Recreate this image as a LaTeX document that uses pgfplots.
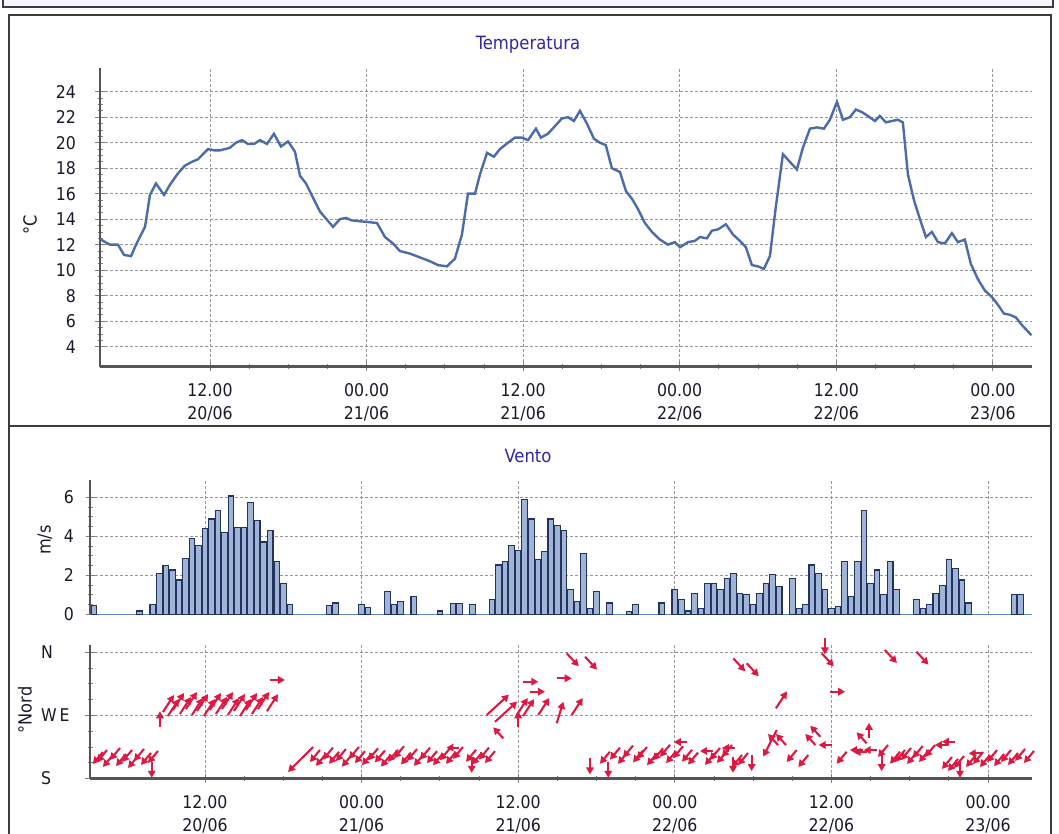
\documentclass[border=0pt]{standalone}
\usepackage{fontspec}
\setmainfont{DejaVu Sans Condensed}
\usepackage{pgfplots}
\usepackage{pgfplotstable}
\pgfplotsset{compat=1.18}
\usetikzlibrary{arrows.meta}
\definecolor{tline}{RGB}{74,108,168}
\definecolor{titlec}{RGB}{48,40,160}
\definecolor{barfill}{RGB}{160,180,215}
\definecolor{bardraw}{RGB}{34,52,94}
\definecolor{zeroline}{RGB}{100,135,200}
\definecolor{arrowc}{RGB}{222,24,64}
\definecolor{gridc}{RGB}{150,150,150}
\definecolor{axisc}{RGB}{85,85,85}
\definecolor{framec}{RGB}{60,60,60}
\definecolor{labelc}{RGB}{25,25,40}
\definecolor{stripc}{RGB}{244,246,252}

\pgfplotsset{
  base/.style={
    scale only axis,
    /pgf/number format/assume math mode=true,
    tick label style={font=\fontsize{17.5}{23}\selectfont, text=labelc},
    tick style={line width=0.8pt, gray},
    major tick length=9pt, minor tick length=5pt,
    tick align=outside,
    major grid style={dash pattern=on 3pt off 2pt, gridc, line width=0.8pt},
    xmajorgrids, ymajorgrids,
    xtick={12,24,36,48,60,72},
    minor x tick num=3,
  },
  lines/.style={
    axis x line=bottom, axis y line=left,
    axis line style={-, line width=2.6pt, axisc},
  },
  datelabels/.style={
    xticklabels={{12.00\\20/06},{00.00\\21/06},{12.00\\21/06},{00.00\\22/06},{12.00\\22/06},{00.00\\23/06}},
    x tick label style={align=center, yshift=-8.5pt},
  },
  arr/.style={arrowc, line width=2.1pt, -{Triangle[length=7pt,width=7.5pt]}},
}

\pgfplotstableread{
x y
3.57 12.5
3.80 12.3
4.34 12.0
4.95 12.0
5.41 11.2
5.95 11.1
6.33 12.0
7.02 13.4
7.40 15.9
7.86 16.8
8.48 15.9
8.93 16.7
9.55 17.6
10.08 18.2
10.62 18.5
11.08 18.7
11.85 19.5
12.31 19.4
12.77 19.4
13.53 19.6
13.99 20.0
14.45 20.2
14.91 19.9
15.37 19.9
15.83 20.2
16.37 19.9
16.90 20.7
17.44 19.7
17.98 20.1
18.51 19.3
18.90 17.4
19.36 16.8
19.89 15.7
20.43 14.6
21.43 13.4
21.96 14.0
22.42 14.1
22.88 13.9
23.88 13.8
24.80 13.7
25.41 12.6
26.02 12.1
26.56 11.5
27.33 11.3
28.09 11.0
28.86 10.7
29.47 10.4
30.16 10.3
30.77 10.9
31.31 12.8
31.77 16.0
32.31 16.0
32.69 17.5
33.23 19.2
33.76 18.9
34.22 19.5
34.84 20.0
35.37 20.4
35.91 20.4
36.37 20.2
36.98 21.1
37.36 20.4
37.90 20.7
38.44 21.3
38.97 21.9
39.43 22.0
39.89 21.7
40.35 22.5
40.89 21.5
41.43 20.3
41.89 20.0
42.34 19.8
42.80 18.0
43.42 17.7
43.88 16.2
44.34 15.6
44.80 14.8
45.33 13.7
45.87 13.0
46.48 12.4
47.10 12.0
47.63 12.2
48.02 11.8
48.64 12.2
49.16 12.3
49.55 12.6
50.08 12.5
50.47 13.1
50.93 13.2
51.54 13.6
52.08 12.8
52.61 12.3
53.07 11.8
53.53 10.4
53.99 10.3
54.45 10.1
54.91 11.1
55.37 15.0
55.91 19.1
56.44 18.5
56.98 17.9
57.44 19.6
57.98 21.1
58.51 21.2
59.05 21.1
59.51 21.8
60.05 23.2
60.51 21.8
61.04 22.0
61.50 22.6
61.96 22.4
62.42 22.1
62.96 21.7
63.34 22.1
63.80 21.6
64.26 21.7
64.72 21.8
65.10 21.6
65.49 17.5
65.95 15.5
66.41 14.0
66.87 12.6
67.33 13.0
67.79 12.2
68.32 12.1
68.86 12.9
69.32 12.2
69.85 12.4
70.31 10.5
70.85 9.3
71.39 8.4
71.92 7.9
72.38 7.3
72.84 6.6
73.30 6.5
73.76 6.3
74.22 5.7
74.68 5.2
74.95 4.9
}\temp

\pgfplotstableread{
x y
3.5 0.43
7.0 0.17
8.0 0.51
8.5 2.10
9.0 2.51
9.5 2.27
10.0 1.76
10.5 2.87
11.0 3.88
11.5 3.52
12.0 4.38
12.5 4.89
13.0 5.32
13.5 4.21
14.0 6.07
14.5 4.44
15.0 4.44
15.5 5.74
16.0 4.80
16.5 3.71
17.0 4.31
17.5 2.70
18.0 1.59
18.5 0.50
21.5 0.43
22.0 0.58
24.0 0.50
24.5 0.34
26.0 1.18
26.5 0.51
27.0 0.67
28.0 0.92
30.0 0.17
31.0 0.56
31.5 0.56
32.5 0.50
34.0 0.75
34.5 2.53
35.0 2.70
35.5 3.54
36.0 3.28
36.5 5.91
37.0 4.89
37.5 2.79
38.0 3.21
38.5 4.89
39.0 4.55
39.5 4.31
40.0 1.25
40.5 0.67
41.0 3.13
41.5 0.32
42.0 1.18
43.0 0.58
44.5 0.15
45.0 0.50
47.0 0.58
48.0 1.25
48.5 0.75
49.0 0.17
49.5 1.08
50.0 0.32
50.5 1.59
51.0 1.59
51.5 1.25
52.0 1.85
52.5 2.10
53.0 1.08
53.5 1.01
54.0 0.50
54.5 1.08
55.0 1.59
55.5 2.02
56.0 1.42
57.0 1.85
57.5 0.32
58.0 0.50
58.5 2.53
59.0 2.10
59.5 1.25
60.0 0.32
60.5 0.41
61.0 2.70
61.5 0.92
62.0 2.70
62.5 5.32
63.0 1.59
63.5 2.27
64.0 1.01
64.5 2.70
65.0 1.25
66.5 0.75
67.0 0.32
67.5 0.50
68.0 1.08
68.5 1.50
69.0 2.79
69.5 2.36
70.0 1.76
70.5 0.58
74.0 1.01
74.5 1.01
}\wind

% wind-direction arrows: tail positions, grouped by arrow direction
\pgfplotstableread{
x y
4.18 37.8
4.49 40.6
4.95 33.5
5.49 43.5
5.95 34.9
6.41 40.6
6.87 32.1
7.33 42.1
7.86 36.4
8.40 39.2
20.81 40.6
21.27 35.0
21.81 44.0
22.27 38.0
22.80 42.0
23.26 34.0
23.80 45.0
24.26 39.0
24.80 36.0
25.26 43.0
25.79 40.0
26.25 34.0
26.79 41.0
27.25 46.0
27.79 37.0
28.25 42.0
28.78 35.0
29.24 44.0
29.78 39.0
30.24 36.0
30.77 43.0
31.23 38.0
31.77 45.0
32.77 41.0
33.23 37.0
33.76 44.0
34.22 39.0
43.03 38.2
43.80 44.0
44.41 38.0
44.80 47.0
45.56 40.0
45.87 45.0
46.64 36.0
47.10 43.0
47.63 48.0
48.10 39.0
48.63 46.0
49.32 41.0
49.78 37.0
51.08 36.4
51.46 43.5
52.00 39.2
52.38 47.8
53.15 33.5
53.61 36.4
57.34 40.6
58.23 33.5
61.17 38.2
64.34 47.8
65.26 38.2
65.64 40.6
66.10 43.5
66.56 37.8
67.00 46.4
67.48 40.6
67.94 47.8
69.24 30.7
69.70 27.8
70.16 32.1
71.08 33.5
71.62 37.8
72.15 33.5
72.69 40.6
73.23 34.9
73.76 40.6
74.30 36.4
74.84 42.1
75.52 39.2
}\dirSW
\pgfplotstableread{
x y
7.92 24.0
32.44 31.1
41.50 28.8
42.90 24.0
52.46 31.1
53.89 33.5
59.50 199.9
63.85 33.5
69.85 24.0
}\dirS
\pgfplotstableread{
x y
8.55 73.9
36.00 73.9
62.88 57.3
}\dirN
\pgfplotstableread{
x y
8.78 94.8
9.16 89.1
9.55 97.7
10.08 92.0
10.54 99.1
11.00 90.6
11.39 96.3
11.92 89.1
12.38 97.7
12.84 92.0
13.30 99.1
13.76 90.6
14.22 96.3
14.68 89.1
15.14 97.7
15.60 92.0
16.06 99.1
16.75 96.0
35.89 90.6
36.37 89.0
37.54 90.6
40.10 90.6
55.75 100.1
}\dirNE
\pgfplotstableread{
x y
33.59 90.6
34.22 80.7
}\dirNEl
\pgfplotstableread{
x y
16.98 140.5
36.39 138.0
36.90 123.8
38.95 142.9
59.90 123.8
}\dirE
\pgfplotstableread{
x y
31.50 44.0
48.93 52.0
50.93 39.2
52.61 43.5
60.02 47.8
62.42 40.6
62.70 37.8
63.47 40.6
68.93 47.8
69.47 52.5
71.52 35.9
}\dirW
\pgfplotstableread{
x y
39.72 178.5
41.12 173.7
52.48 171.4
53.51 164.3
59.26 178.5
64.10 183.2
66.52 180.8
}\dirSE
\pgfplotstableread{
x y
34.86 57.3
55.91 47.8
56.52 47.8
58.77 47.8
59.15 59.6
62.70 50.2
}\dirNW

\begin{document}
\begin{tikzpicture}
\useasboundingbox (0pt,0pt) rectangle (1059pt,834pt);
% frames
\fill[stripc] (3pt,827pt) rectangle (1053pt,836pt);
\draw[framec, line width=1.3pt] (3pt,836pt) -- (3pt,827pt) -- (1053pt,827pt) -- (1053pt,836pt);
\draw[framec, line width=1.4pt] (9pt,819pt) rectangle (1051pt,408pt);
\draw[framec, line width=1.4pt] (9pt,-5pt) -- (9pt,408pt) -- (1051pt,408pt) -- (1051pt,-5pt);

% titles and axis labels
\node[titlec, font=\fontsize{18.3}{20}\selectfont] at (528pt,789pt) {Temperatura};
\node[titlec, font=\fontsize{18.3}{20}\selectfont] at (528pt,378pt) {Vento};
\node[labelc, rotate=90, font=\fontsize{18}{20}\selectfont] at (30pt,609pt) {°C};
\node[labelc, rotate=90, font=\fontsize{18}{20}\selectfont] at (45pt,294pt) {m/s};
\node[labelc, rotate=90, font=\fontsize{18}{20}\selectfont] at (25pt,124pt) {°Nord};

% temperature
\begin{axis}[base, lines, at={(100pt,467.3pt)}, anchor=south west,
  width=932pt, height=298.7pt,
  xmin=3.57, xmax=75.0, ymin=2.43, ymax=25.86,
  datelabels,
  ytick={4,6,...,24}, minor y tick num=3,
  y tick label style={xshift=-16pt}]
\addplot[tline, line width=2.4pt] table {\temp};
\end{axis}

% wind speed
\begin{axis}[base, lines, at={(90pt,219.7pt)}, anchor=south west,
  width=942pt, height=134.3pt,
  xmin=3.19, xmax=75.37, ymin=0, ymax=6.89,
  x axis line style={draw=none}, xticklabels={}, minor x tick num=0,
  xtick style={draw=none},
  ytick={0,2,4,6}, minor y tick num=3,
  y tick label style={xshift=-8pt}]
\addplot[zeroline, line width=1pt] coordinates {(3.19,0) (75.37,0)};
\addplot[ybar, bar width=5.6pt, fill=barfill, draw=bardraw, line width=1.1pt] table {\wind};
\end{axis}

% wind direction
\begin{axis}[base, lines, at={(90pt,55.5pt)}, anchor=south west,
  width=942pt, height=133.5pt,
  xmin=3.19, xmax=75.37, ymin=0, ymax=190.4,
  datelabels,
  ytick={0,90,180}, yticklabels={S,W\hspace{3pt}E,N}, minor y tick num=3,
  y tick label style={anchor=west, xshift=-48pt},
  clip=false]
\addplot[arr, quiver={u=-0.77,v=-17.1}] table {\dirSW};
\addplot[arr, quiver={u=-1.92,v=-35.6}] coordinates {(20.28,44.9)};
\addplot[arr, quiver={u=-1.03,v=-38}] coordinates {(55.81,69.2)};
\addplot[arr, quiver={u=0,v=-23}] table {\dirS};
\addplot[arr, quiver={u=0,v=22}] table {\dirN};
\addplot[arr, quiver={u=0.843,v=24.2}] table {\dirNE};
\addplot[arr, quiver={u=1.7,v=29}] table {\dirNEl};
\addplot[arr, quiver={u=0.51,v=30.8}] coordinates {(38.95,78.7)};
\addplot[arr, quiver={u=1.15,v=0}] table {\dirE};
\addplot[arr, quiver={u=-1.0,v=0}] table {\dirW};
\addplot[arr, quiver={u=0.92,v=-18.5}] table {\dirSE};
\addplot[arr, quiver={u=-0.77,v=15.7}] table {\dirNW};
\end{axis}
\end{tikzpicture}
\end{document}
